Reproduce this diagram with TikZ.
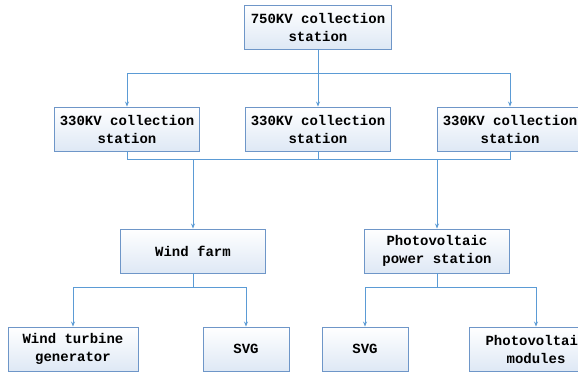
\documentclass[tikz,border=0pt]{standalone}
\usepackage{fontspec}
\setmonofont{Liberation Mono}
\usetikzlibrary{arrows.meta, positioning}
\definecolor{linkblue}{RGB}{91,155,213}
\definecolor{boxedge}{RGB}{110,150,200}
\definecolor{boxfill}{RGB}{222,232,245}
\tikzset{
  station/.style={draw=boxedge, line width=0.9pt, top color=white, bottom color=boxfill,
    align=center, font=\ttfamily\bfseries\fontsize{14}{18}\selectfont,
    inner sep=0pt, minimum height=44pt},
  link/.style={draw=linkblue, line width=0.9pt},
  feed/.style={link, -{Stealth[length=5pt,width=4pt]}},
}

\begin{document}
\begin{tikzpicture}[x=1pt, y=-1pt] % pixel coordinates, y downwards
\useasboundingbox (0,0) rectangle (578,372);

% stations
\node[station, minimum width=147pt] (hv) at (318,27) {750KV collection\\station};
\node[station, minimum width=145pt] (cs1) at (127,129) {330KV collection\\station};
\node[station, minimum width=145pt] (cs2) at (318,129) {330KV collection\\station};
\node[station, minimum width=145pt] (cs3) at (510,129) {330KV collection\\station};
\node[station, minimum width=145pt] (wf) at (193,251) {Wind farm};
\node[station, minimum width=145pt] (pv) at (437,251) {Photovoltaic\\power station};
\node[station, minimum width=130pt] (wtg) at (73,349) {Wind turbine\\generator};
\node[station, minimum width=86pt] (svg1) at (246,349) {SVG};
\node[station, minimum width=86pt] (svg2) at (365,349) {SVG};
\node[station, minimum width=134pt] (pvm) at (536,349) {Photovoltaic\\modules};

% 750KV -> 330KV
\draw[link] (hv.south) -- ++(0,24) coordinate (hvbus);
\draw[feed] (hvbus) -| (cs1.north);
\draw[feed] (hvbus) -| (cs3.north);
\draw[feed] (hv.south) -- (cs2.north);

% 330KV -> farms
\draw[link] (cs1.south) -- ++(0,8) -| (cs3.south);
\draw[link] (cs2.south) -- ++(0,8) coordinate (lvbus);
\draw[feed] (wf.north |- lvbus) -- (wf.north);
\draw[feed] (pv.north |- lvbus) -- (pv.north);

% farms -> units
\draw[link] (wf.south) -- ++(0,14) coordinate (wfbus);
\draw[feed] (wfbus) -| (wtg.north);
\draw[feed] (wfbus) -| (svg1.north);
\draw[link] (pv.south) -- ++(0,14) coordinate (pvbus);
\draw[feed] (pvbus) -| (svg2.north);
\draw[feed] (pvbus) -| (pvm.north);

\end{tikzpicture}
\end{document}
